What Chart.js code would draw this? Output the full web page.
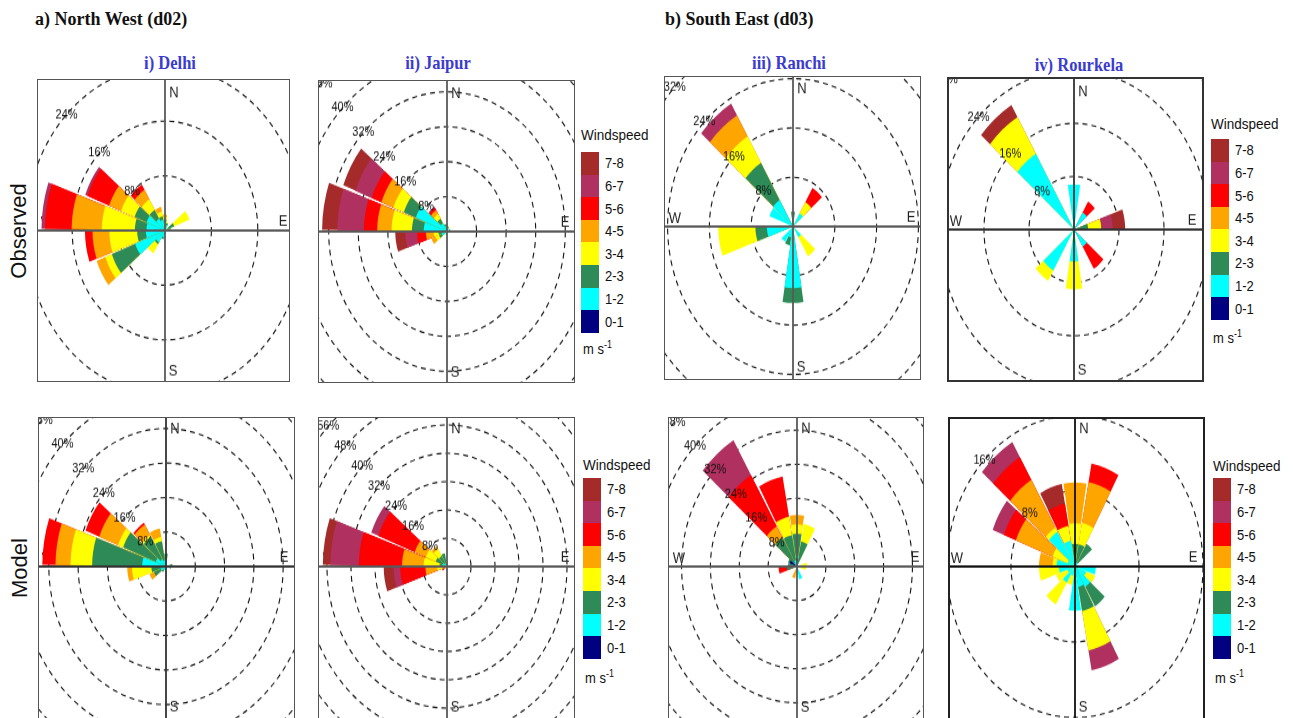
<!DOCTYPE html>
<html>
<head>
<meta charset="utf-8">
<title>Wind roses – Observed vs Model</title>
<script src="https://cdn.jsdelivr.net/npm/chart.js@4.4.1/dist/chart.umd.min.js"></script>
<style>
html,body{margin:0;padding:0;background:#fff}
body{width:1293px;height:718px;position:relative;overflow:hidden;font-family:"Liberation Sans",Arial,sans-serif;color:#111}
.t{position:absolute;white-space:nowrap;line-height:1}
.title{font-family:"Liberation Serif","Times New Roman",serif;font-weight:bold;font-size:18px;color:#111;transform:translateY(-50%) scaleY(1.1)}
.sub{font-family:"Liberation Serif","Times New Roman",serif;font-weight:bold;font-size:16.5px;color:#3b3bd0;transform:translate(-50%,-50%) scaleY(1.1)}
.row{font-size:22px;transform:translate(-50%,-50%) rotate(-90deg)}
.box{position:absolute;box-sizing:border-box;border-style:solid;overflow:hidden;background:#fff}
.box canvas{position:absolute}
.lgt{font-size:13.5px;transform:translateY(-50%) scaleY(1.15)}
.lgl{font-size:13px;transform:translateY(-50%) scaleY(1.15)}
.sw{position:absolute;width:18px}
</style>
</head>
<body>
<script>
// ---------------- data ----------------
const DIRECTIONS = [0,20,40,60,80,100,120,140,160,180,200,220,240,260,280,300,320,340];
const SPEED_BINS = ['0-1','1-2','2-3','3-4','4-5','5-6','6-7','7-8'];
const BIN_COLORS = ['#000080','#00FFFF','#2E8B57','#FFFF00','#FFA500','#FF0000','#B03060','#A52A2A'];
const PCT_STEP = 8;

// rows: [direction (deg), % in 0-1, 1-2, 2-3, 3-4, 4-5, 5-6, 6-7, 7-8 m/s]
const delhiObs = [
  [0,   0,   1.2, 0.4, 0.4, 0.3, 0,   0,   0],
  [20,  0,   0.8, 0.3, 0.2, 0,   0,   0,   0],
  [60,  0,   0.5, 1.2, 2.8, 0,   0,   0,   0],
  [80,  0,   0.6, 0.4, 0,   0,   0,   0,   0],
  [100, 0,   0.6, 0,   0,   0,   0,   0,   0],
  [160, 0,   0.5, 0,   0,   0,   0,   0,   0],
  [200, 0,   1.0, 0.3, 0,   0,   0,   0,   0],
  [220, 0,   2.0, 0.3, 1.6, 0,   0,   0,   0],
  [240, 0.1, 5.4, 4.3, 1.2, 1.6, 0,   0,   0],
  [260, 0.1, 3.2, 1.5, 4.8, 2.9, 1.3, 0,   0],
  [280, 0.2, 3.0, 2.0, 5.7, 5.2, 4.6, 0.6, 0],
  [300, 0.1, 3.3, 2.2, 2.5, 2.2, 4.0, 0.4, 0],
  [320, 0.1, 1.9, 1.5, 1.8, 1.6, 0.9, 0,   0],
  [340, 0,   1.6, 0.5, 0.7, 0.7, 0,   0,   0]
];
const jaipurObs = [
  [0,   0.1, 1.0, 0.4, 0.2, 0,   0,   0,   0],
  [20,  0,   0.8, 0.3, 0.2, 0,   0,   0,   0],
  [60,  0,   0.8, 0.2, 0,   0,   0,   0,   0],
  [80,  0,   0.6, 0.3, 0.3, 0,   0,   0,   0],
  [200, 0,   0.6, 0.2, 0,   0,   0,   0,   0],
  [240, 0.1, 1.4, 0.8, 1.0, 1.2, 0,   0,   0],
  [260, 0.2, 1.3, 0.8, 1.3, 2.1, 2.4, 3.2, 2.7],
  [280, 0.3, 6.0, 3.2, 5.5, 3.9, 3.6, 7.2, 4.1],
  [300, 0.3, 8.7, 3.5, 3.0, 3.5, 2.8, 4.7, 3.5],
  [320, 0.2, 2.0, 1.2, 1.3, 1.0, 0.6, 0.3, 0],
  [340, 0.1, 1.2, 0.4, 0,   0,   0,   0,   0]
];
const ranchiObs = [
  [0,   0,   1.0, 1.4, 0,   0,   0,   0,   0],
  [40,  0,   2.5, 0,   2.1, 0,   2.7, 0,   0],
  [140, 0,   2.0, 0,   3.6, 0,   0,   0,   0],
  [180, 0.1, 9.9, 2.4, 0,   0,   0,   0,   0],
  [200, 0,   1.8, 1.3, 0,   0,   0,   0,   0],
  [220, 0,   2.9, 0,   0,   0,   0,   0,   0],
  [260, 0.1, 4.9, 2.2, 7.1, 0,   0,   0,   0],
  [300, 0.1, 4.7, 0,   0,   0,   0,   0,   0],
  [320, 0.2, 4.8, 7.0, 5.0, 4.0, 0,   2.2, 0]
];
const rourkelaObs = [
  [0,   0.1, 6.7, 0,   0,    0,   0,   0,    0],
  [40,  0,   3.0, 0,   0,    0,   1.9, 0,    0],
  [80,  0.2, 0.5, 1.8, 2.35, 0,   0,   2.05, 2.2],
  [140, 0,   3.0, 0,   0,    0,   3.9, 0,    0],
  [180, 0.1, 4.7, 0,   4.2,  0,   0,   0,    0],
  [220, 0.1, 7.1, 0,   1.8,  0,   0,   0,    0],
  [320, 0.2, 13.1,0,   6.4,  0,   0,   0,    2.1]
];
const delhiModel = [
  [0,   0.1, 1.4, 1.5,  0,   0,   0,   0, 0],
  [80,  0,   1.0, 0.8,  0,   0,   0,   0, 0],
  [100, 0,   0.8, 0.6,  0,   0,   0,   0, 0],
  [220, 0,   1.0, 0.5,  0,   0,   0,   0, 0],
  [240, 0.1, 1.4, 2.0,  0,   1.3, 0,   0, 0],
  [260, 0.1, 1.4, 2.5,  5.3, 1.3, 0,   0, 0],
  [280, 0.5, 6.0, 13.7, 5.9, 4.1, 3.6, 0, 0],
  [300, 0.3, 2.7, 9.5,  1.5, 5.5, 4.0, 0, 0],
  [320, 0.2, 1.8, 6.0,  0.5, 2.8, 0.5, 0, 0],
  [340, 0.1, 1.4, 4.5,  1.0, 2.0, 0,   0, 0]
];
const jaipurModel = [
  [0,   0,   0.6, 0.4, 0,   0,   0,    0,   0],
  [80,  0.6, 0,   0,   0,   0,   0,    0,   0],
  [240, 0,   0.5, 0,   0,   0.5, 0.8,  0,   0],
  [260, 0.2, 0.8, 0.5, 1.8, 3.9, 8.4,  2.2, 3.3],
  [280, 0.3, 1.4, 0.8, 5.3, 7.2, 14.4, 9.5, 2.5],
  [300, 0.3, 1.2, 2.5, 3.5, 4.0, 13.0, 2.5, 0],
  [320, 0.1, 0.9, 2.5, 2.3, 0.9, 0,    0,   0],
  [340, 0,   1.0, 2.8, 0,   0,   0,    0,   0]
];
const ranchiModel = [
  [0,   2.0, 0.5, 5.2, 2.2, 2.2, 0,    0,   0],
  [20,  0,   1.0, 5.0, 4.2, 0,   0,    0,   0],
  [80,  0,   0.5, 0.5, 1.8, 0,   0,    0,   0],
  [100, 0,   0.5, 0,   2.0, 0,   0,    0,   0],
  [160, 0,   3.0, 0,   0,   0,   0,    0,   0],
  [180, 0,   1.0, 0.5, 0,   0,   0,    0,   0],
  [200, 0,   0.5, 0,   0,   2.3, 0,    0,   0],
  [260, 0.5, 0,   2.3, 0,   0,   2.3,  0,   0],
  [280, 0.5, 0.5, 1.5, 0,   0,   0,    0,   0],
  [300, 2.2, 0,   0.5, 0,   0,   0,    0,   0],
  [320, 0.5, 0.5, 7.0, 0,   3.0, 14.0, 9.5, 0],
  [340, 0,   1.5, 6.0, 4.4, 0,   9.6,  0,   0]
];
const rourkelaModel = [
  [0,   0.2, 0.3, 1.9, 2.2,  4.3, 0,   0,    0],
  [20,  0.2, 0.2, 2.0, 2.3,  4.4, 2.0, 0,    0],
  [40,  0,   0.5, 2.3, 0,    0,   0,   0,    0],
  [100, 0,   2.6, 0,   0,    0,   0,   0,    0],
  [120, 0,   1.5, 0,   1.2,  0,   0,   0,    0],
  [140, 0,   2.5, 2.4, 0,    0,   0,   0,    0],
  [160, 0.2, 2.0, 2.6, 4.25, 0,   0,   2.15, 0],
  [180, 0,   4.7, 0,   0,    0,   0,   0,    0],
  [200, 0,   1.0, 0,   1.0,  0,   0,   0,    0],
  [220, 0,   2.0, 0,   2.7,  0,   0,   0,    0],
  [240, 0,   1.0, 0,   1.5,  0,   0,   0,    0],
  [260, 0,   2.0, 0,   2.5,  0,   0,   0,    0],
  [280, 0,   2.3, 0,   0.5,  1.7, 0,   0,    0],
  [300, 0.2, 0.8, 0,   2.0,  4.9, 1.6, 1.5,  0],
  [320, 0.2, 4.1, 0,   0.5,  5.9, 2.8, 1.85, 0],
  [340, 0.2, 2.6, 0,   1.6,  0,   2.4, 0,    2.1]
];

// ---------------- layout ----------------
const STRETCH = 1.18;   // vertical stretch of the reference figure
const GAP = 1.4;        // angular gap between neighbouring wedges (deg)

const PANELS = [
  {rows: delhiObs,      box:[37,79,253,303],  center:[165,231], k:5.8,  max:40, line:'#5a5a5a', border:'#555', bw:1.5},
  {rows: jaipurObs,     box:[318,80,257,303], center:[447,232], k:3.7,  max:56, line:'#5a5a5a', border:'#555', bw:1.5},
  {rows: ranchiObs,     box:[664,76,257,304], center:[793,227], k:5.23, max:40, line:'#5a5a5a', border:'#555', bw:1.5},
  {rows: rourkelaObs,   box:[947,77,257,305], center:[1074,229],k:5.63, max:40, line:'#333',    border:'#333', bw:2},
  {rows: delhiModel,    box:[38,417,257,303], center:[166,567], k:3.66, max:56, line:'#333',    border:'#555', bw:1.5},
  {rows: jaipurModel,   box:[318,417,257,303],center:[447,567], k:3.0,  max:64, line:'#5a5a5a', border:'#555', bw:1.5},
  {rows: ranchiModel,   box:[668,417,256,303],center:[797,567], k:3.6,  max:56, line:'#5a5a5a', border:'#555', bw:1.5},
  {rows: rourkelaModel, box:[948,417,257,303],center:[1075,567],k:8.0,  max:24, line:'#111',    border:'#222', bw:2.5}
];

function addText(html, x, y, cls, extra) {
  const d = document.createElement('div');
  d.className = 't ' + cls;
  d.innerHTML = html;
  d.style.left = x + 'px';
  d.style.top = y + 'px';
  if (extra) Object.assign(d.style, extra);
  document.body.appendChild(d);
  return d;
}

addText('a) North West (d02)', 35, 18, 'title');
addText('b) South East (d03)', 665, 18, 'title');
addText('i) Delhi', 170, 64, 'sub');
addText('ii) Jaipur', 438, 64, 'sub');
addText('iii) Ranchi', 789, 64, 'sub');
addText('iv) Rourkela', 1079, 66, 'sub');
addText('Observed', 19, 231, 'row');
addText('Model', 20, 568, 'row');

// colour-bar legends
const LEGENDS = [
  {x:581,  titleY:135, top:152, unitY:348},
  {x:1211, titleY:124, top:139, unitY:337},
  {x:583,  titleY:465, top:478, unitY:677},
  {x:1213, titleY:466, top:478, unitY:677}
];
const SW_H = 22.6;
LEGENDS.forEach(l => {
  addText('Windspeed', l.x, l.titleY, 'lgt');
  const order = SPEED_BINS.map((b, i) => i).reverse();
  order.forEach((bi, j) => {
    const sw = document.createElement('div');
    sw.className = 'sw';
    sw.style.left = l.x + 'px';
    sw.style.top = (l.top + j * SW_H) + 'px';
    sw.style.height = (SW_H + 0.5) + 'px';
    sw.style.background = BIN_COLORS[bi];
    document.body.appendChild(sw);
    addText(SPEED_BINS[bi], l.x + 24, l.top + j * SW_H + SW_H / 2, 'lgl');
  });
  addText('m s<sup style="font-size:9px">-1</sup>', l.x + 2, l.unitY, 'lgl');
});

// ---------------- chart pieces ----------------
const roseDecor = {
  id: 'roseDecor',
  beforeDatasetsDraw(chart, args, opts) {
    const s = chart.scales.r, ctx = chart.ctx;
    ctx.save();
    ctx.fillStyle = '#222';
    ctx.font = '13px "Liberation Sans", Arial, sans-serif';
    ctx.textAlign = 'center';
    ctx.textBaseline = 'middle';
    [['N', 9, -138], ['E', 118, -9], ['S', 8, 141], ['W', -118, -8]].forEach(([t, dx, dy]) => {
      ctx.fillText(t, s.xCenter + dx, s.yCenter + dy / STRETCH);
    });
    ctx.restore();
  },
  afterDatasetsDraw(chart, args, opts) {
    const s = chart.scales.r, ctx = chart.ctx;
    ctx.save();
    ctx.strokeStyle = opts.line;
    ctx.lineWidth = 1.8;
    ctx.beginPath();
    ctx.moveTo(0, s.yCenter); ctx.lineTo(chart.width, s.yCenter);
    ctx.moveTo(s.xCenter, 0); ctx.lineTo(s.xCenter, chart.height);
    ctx.stroke();
    ctx.fillStyle = '#111';
    ctx.font = '11px "Liberation Sans", Arial, sans-serif';
    ctx.textAlign = 'center';
    ctx.textBaseline = 'middle';
    s.ticks.forEach(t => {
      if (t.value <= 0) return;
      const d = s.getDistanceFromCenterForValue(t.value);
      ctx.fillText(t.value + '%', s.xCenter - d * Math.SQRT1_2, s.yCenter - d * Math.SQRT1_2);
    });
    ctx.restore();
  }
};

function buildDatasets(rows) {
  return SPEED_BINS.map((bin, b) => {
    const data = [];
    const angle = [];
    DIRECTIONS.forEach(dir => {
      const row = rows.find(r => r[0] === dir);
      let v = 0;
      if (row && row[1 + b] > 0) v = row.slice(1, 2 + b).reduce((a, c) => a + c, 0);
      data.push(v, 0);
      angle.push(20 - GAP, GAP);
    });
    return {label: bin + ' m s-1', data, angle, backgroundColor: BIN_COLORS[b], borderWidth: 0};
  });
}

const LABELS = DIRECTIONS.flatMap(d => [d + '°', '']);

PANELS.forEach(p => {
  const [L, T, W, H] = p.box;
  const box = document.createElement('div');
  box.className = 'box';
  Object.assign(box.style, {left: L + 'px', top: T + 'px', width: W + 'px', height: H + 'px',
    borderWidth: p.bw + 'px', borderColor: p.border});
  const half = Math.round(p.max * p.k);
  const S = 2 * half;
  const cv = document.createElement('canvas');
  cv.width = S; cv.height = S;
  cv.style.width = S + 'px';
  cv.style.height = (S * STRETCH) + 'px';
  cv.style.left = (p.center[0] - half - (L + p.bw)) + 'px';
  cv.style.top = (p.center[1] - half * STRETCH - (T + p.bw)) + 'px';
  box.appendChild(cv);
  document.body.appendChild(box);

  new Chart(cv, {
    type: 'polarArea',
    data: {labels: LABELS, datasets: buildDatasets(p.rows)},
    options: {
      responsive: false,
      devicePixelRatio: 1,
      animation: false,
      events: [],
      layout: {padding: 0},
      plugins: {legend: {display: false}, tooltip: {enabled: false}, roseDecor: {line: p.line}},
      scales: {
        r: {
          min: 0, max: p.max,
          startAngle: -10 + GAP / 2,
          ticks: {display: false, stepSize: PCT_STEP},
          grid: {color: '#111', lineWidth: 1.1},
          border: {dash: [5, 4]},
          angleLines: {display: false},
          pointLabels: {display: false}
        }
      }
    },
    plugins: [roseDecor]
  });
});
</script>
</body>
</html>
